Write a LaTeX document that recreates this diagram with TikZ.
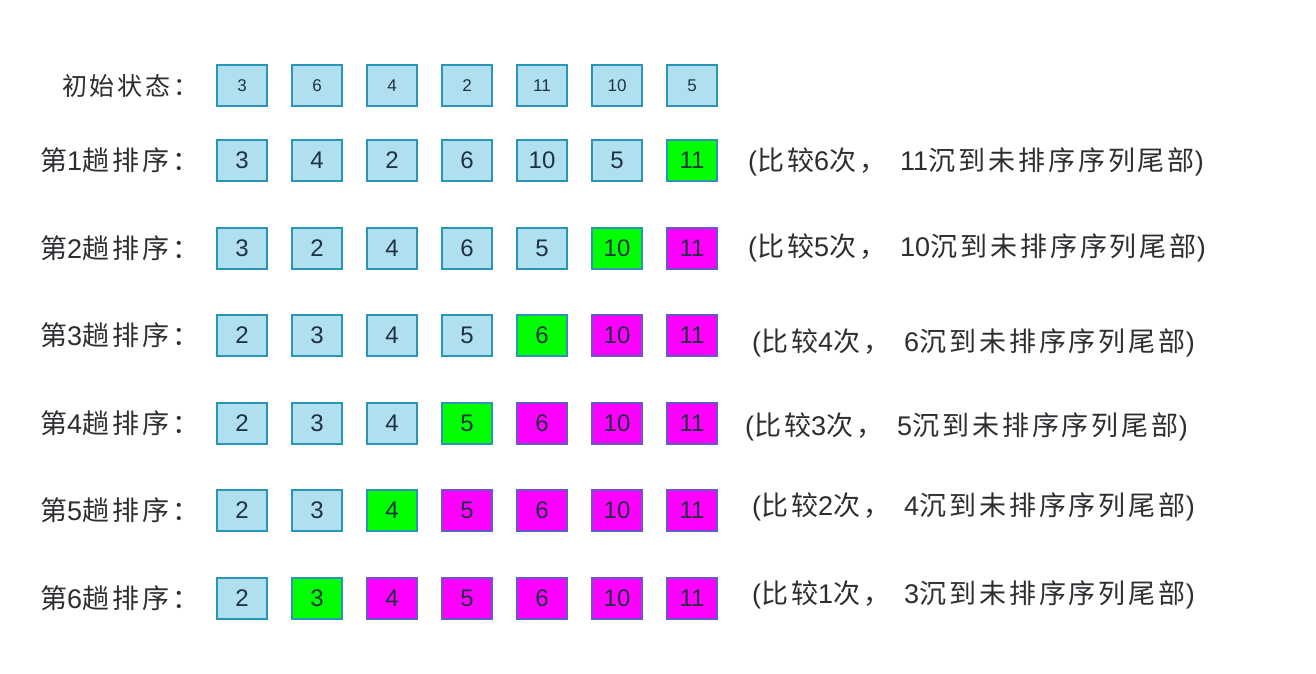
\documentclass[tikz,border=0pt]{standalone}
\usepackage{fontspec}
\setmainfont{Liberation Sans}
\newfontfamily\cjk[LetterSpace=11]{Noto Sans CJK SC}
\newcommand\lat[1]{{\rmfamily#1}}
\definecolor{cellfill}{RGB}{176,224,240}
\definecolor{cellline}{RGB}{40,150,180}
\definecolor{sunkfill}{RGB}{0,255,0}
\definecolor{donefill}{RGB}{255,0,255}
\definecolor{doneline}{RGB}{100,90,200}
\definecolor{numtext}{RGB}{30,50,65}
\definecolor{labeltext}{RGB}{45,45,50}
\begin{document}
\begin{tikzpicture}[x=1pt,y=-1pt,
    cell/.style={draw=cellline,line width=2pt,fill=cellfill,minimum width=50pt,
      minimum height=41pt,inner sep=0pt,text=numtext,font=\fontsize{24}{24}\selectfont},
    small/.style={font=\fontsize{17}{17}\selectfont},
    sunk/.style={fill=sunkfill},
    done/.style={fill=donefill,draw=doneline},
    rowlabel/.style={anchor=west,inner sep=0pt,text=labeltext,font=\cjk\fontsize{27}{27}\selectfont},
    note/.style={anchor=west,inner sep=0pt,text=labeltext,font=\cjk\fontsize{27}{27}\selectfont},
  ]
  \useasboundingbox (0,0) rectangle (1316,673);
  % initial state
  \node[rowlabel,font=\cjk\fontsize{25}{25}\selectfont] (l0) at (62,85.5) {初始状态：};
  \foreach \v [count=\c] in {3,6,4,2,11,10,5}
    \node[cell,small] (r0c\c) at (167+75*\c,85.5) {\v};
  % passes
  \node[rowlabel] (l1) at (40,160.5) {第\lat{1}趟排序：};
  \foreach \v/\s [count=\c] in {3/cell,4/cell,2/cell,6/cell,10/cell,5/cell,11/sunk}
    \node[cell,\s] (r1c\c) at (167+75*\c,160.5) {\v};
  \node[note] (n1) at (748,162) {\lat{(}比较\lat{6}次，\hspace{14pt}\lat{11}沉到未排序序列尾部\lat{)}};
  \node[rowlabel] (l2) at (40,248) {第\lat{2}趟排序：};
  \foreach \v/\s [count=\c] in {3/cell,2/cell,4/cell,6/cell,5/cell,10/sunk,11/done}
    \node[cell,\s] (r2c\c) at (167+75*\c,248) {\v};
  \node[note] (n2) at (748,248) {\lat{(}比较\lat{5}次，\hspace{14pt}\lat{10}沉到未排序序列尾部\lat{)}};
  \node[rowlabel] (l3) at (40,335.5) {第\lat{3}趟排序：};
  \foreach \v/\s [count=\c] in {2/cell,3/cell,4/cell,5/cell,6/sunk,10/done,11/done}
    \node[cell,\s] (r3c\c) at (167+75*\c,335.5) {\v};
  \node[note] (n3) at (752,343) {\lat{(}比较\lat{4}次，\hspace{14pt}\lat{6}沉到未排序序列尾部\lat{)}};
  \node[rowlabel] (l4) at (40,423) {第\lat{4}趟排序：};
  \foreach \v/\s [count=\c] in {2/cell,3/cell,4/cell,5/sunk,6/done,10/done,11/done}
    \node[cell,\s] (r4c\c) at (167+75*\c,423) {\v};
  \node[note] (n4) at (745,427) {\lat{(}比较\lat{3}次，\hspace{14pt}\lat{5}沉到未排序序列尾部\lat{)}};
  \node[rowlabel] (l5) at (40,510.5) {第\lat{5}趟排序：};
  \foreach \v/\s [count=\c] in {2/cell,3/cell,4/sunk,5/done,6/done,10/done,11/done}
    \node[cell,\s] (r5c\c) at (167+75*\c,510.5) {\v};
  \node[note] (n5) at (752,507) {\lat{(}比较\lat{2}次，\hspace{14pt}\lat{4}沉到未排序序列尾部\lat{)}};
  \node[rowlabel] (l6) at (40,598) {第\lat{6}趟排序：};
  \foreach \v/\s [count=\c] in {2/cell,3/sunk,4/done,5/done,6/done,10/done,11/done}
    \node[cell,\s] (r6c\c) at (167+75*\c,598) {\v};
  \node[note] (n6) at (752,595) {\lat{(}比较\lat{1}次，\hspace{14pt}\lat{3}沉到未排序序列尾部\lat{)}};
\end{tikzpicture}
\end{document}
